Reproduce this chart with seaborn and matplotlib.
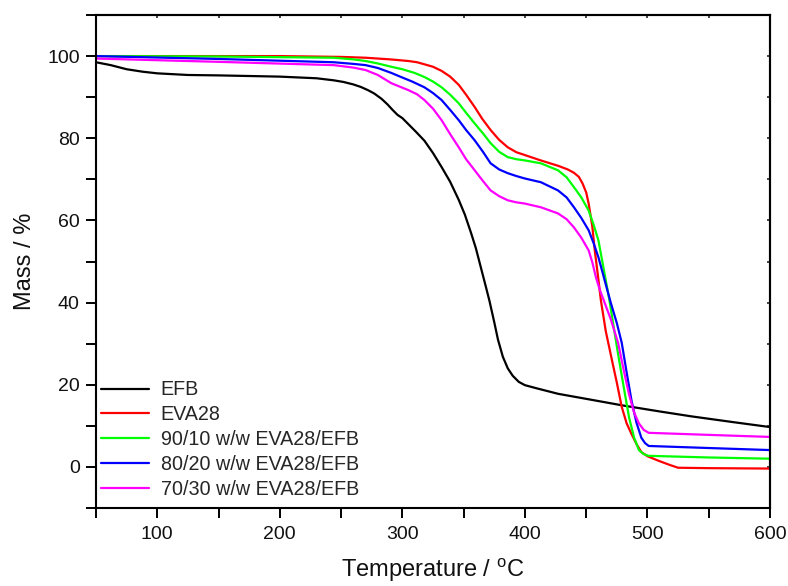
import matplotlib
matplotlib.use("Agg")
import numpy as np
import pandas as pd
import seaborn as sns
import matplotlib.pyplot as plt
from matplotlib.ticker import MultipleLocator

# Thermogravimetric curves: residual mass vs. temperature
labels = ["EFB", "EVA28", "90/10 w/w EVA28/EFB", "80/20 w/w EVA28/EFB", "70/30 w/w EVA28/EFB"]
colors = ["#000000", "#ff0000", "#00ff00", "#0000ff", "#ff00ff"]

efb_t = [50, 62, 75, 88, 100, 125, 150, 200, 230, 244, 252, 260, 266, 272, 277, 283, 288,
         292, 296, 300, 305, 311, 318, 325, 332, 339, 346, 351, 356, 360, 364, 368, 371,
         375, 378, 382, 386, 390, 395, 400, 410, 427, 455, 481, 510, 536, 570, 600]
efb_m = [98.5, 97.8, 96.8, 96.2, 95.8, 95.4, 95.3, 95.0, 94.6, 94.1, 93.7, 93.1, 92.5,
         91.7, 90.9, 89.6, 88.2, 86.9, 85.7, 84.9, 83.4, 81.6, 79.4, 76.4, 73.0, 69.4,
         65.0, 61.4, 57.0, 53.2, 48.6, 44.0, 40.5, 35.2, 31.0, 26.8, 24.0, 22.2, 20.7,
         19.9, 19.1, 17.8, 16.3, 14.9, 13.5, 12.3, 10.9, 9.7]

eva_t = [50, 100, 150, 200, 250, 270, 290, 305, 312, 318, 325, 332, 339, 346, 352, 359,
         365, 372, 379, 386, 393, 400, 413, 427, 435, 440, 444, 447, 450, 452, 455, 457,
         460, 462, 466, 471, 475, 479, 483, 487, 491, 495, 500, 509, 518, 525, 550, 600]
eva_m = [100, 100, 100, 100, 99.8, 99.6, 99.2, 98.8, 98.5, 98.0, 97.4, 96.4, 95.0, 93.0,
         90.6, 87.6, 84.8, 82.0, 79.6, 77.8, 76.6, 75.9, 74.6, 73.3, 72.4, 71.6, 70.6,
         69.0, 66.8, 64.1, 58.5, 52.7, 45.5, 40.5, 33.0, 26.0, 20.5, 14.6, 10.6, 8.0,
         5.6, 3.6, 2.6, 1.5, 0.5, -0.2, -0.3, -0.4]

b90_t = [50, 150, 244, 260, 270, 280, 291, 300, 310, 318, 325, 332, 339, 346, 352, 359,
         366, 372, 379, 386, 393, 400, 413, 427, 434, 440, 446, 452, 456, 460, 465, 469,
         473, 476, 480, 485, 489, 493, 497, 501, 550, 600]
b90_m = [100, 99.9, 99.6, 99.2, 98.8, 98.2, 97.4, 96.8, 95.9, 94.9, 93.8, 92.4, 90.6,
         88.5, 86.2, 83.6, 81.1, 78.8, 76.7, 75.4, 74.9, 74.6, 73.9, 72.2, 70.5, 68.1,
         65.6, 62.4, 59.0, 55.1, 47.0, 40.5, 33.0, 27.5, 20.5, 12.0, 7.2, 4.1, 3.1, 2.7,
         2.3, 2.0]

b80_t = [50, 150, 244, 260, 270, 280, 291, 299, 308, 318, 325, 332, 339, 346, 352, 359,
         366, 372, 379, 386, 393, 400, 413, 427, 434, 440, 446, 452, 456, 460, 465, 470,
         475, 479, 483, 487, 491, 495, 498, 501, 550, 600]
b80_m = [100, 99.3, 98.5, 98.1, 97.8, 97.1, 95.9, 94.9, 93.8, 92.4, 91.0, 89.3, 86.9,
         84.4, 82.0, 79.5, 76.6, 73.9, 72.4, 71.5, 70.8, 70.2, 69.3, 67.3, 65.6, 63.2,
         60.6, 57.6, 54.5, 51.0, 45.5, 40.0, 35.0, 30.2, 23.0, 16.1, 10.8, 7.1, 5.8, 5.1,
         4.6, 4.1]

b70_t = [50, 150, 244, 260, 270, 280, 291, 305, 312, 318, 325, 332, 339, 346, 352, 359,
         366, 372, 379, 386, 393, 400, 413, 427, 434, 440, 446, 452, 455, 458, 461, 465,
         470, 476, 481, 485, 489, 493, 497, 501, 550, 600]
b70_m = [99.4, 98.6, 97.8, 97.2, 96.6, 95.4, 93.4, 91.7, 90.7, 89.3, 87.2, 84.4, 81.0,
         77.8, 74.9, 72.2, 69.5, 67.3, 65.9, 64.9, 64.4, 64.1, 63.2, 61.7, 60.3, 58.3,
         55.8, 52.7, 49.8, 46.1, 43.2, 40.0, 36.0, 30.2, 23.0, 17.6, 13.3, 10.6, 9.0, 8.3,
         7.8, 7.3]

series = [(efb_t, efb_m), (eva_t, eva_m), (b90_t, b90_m), (b80_t, b80_m), (b70_t, b70_m)]
frames = [pd.DataFrame({"Temperature": t, "Mass": m, "Sample": lab})
          for lab, (t, m) in zip(labels, series)]
df = pd.concat(frames, ignore_index=True)

sns.set_theme(style="ticks")
plt.rcParams["font.family"] = ["Liberation Sans", "DejaVu Sans"]
plt.rcParams["mathtext.fontset"] = "custom"
plt.rcParams["mathtext.rm"] = "Liberation Sans"

fig = plt.figure(figsize=(7.88, 5.86), dpi=100)
ax = fig.add_axes([0.1218, 0.1331, 0.8554, 0.8413])

sns.lineplot(data=df, x="Temperature", y="Mass", hue="Sample", hue_order=labels,
             palette=colors, estimator=None, sort=False, linewidth=1.6, ax=ax)

ax.set_xlim(50, 600)
ax.set_ylim(-10, 110)
ax.xaxis.set_major_locator(MultipleLocator(100))
ax.xaxis.set_minor_locator(MultipleLocator(50))
ax.yaxis.set_major_locator(MultipleLocator(20))
ax.yaxis.set_minor_locator(MultipleLocator(10))
ax.tick_params(which="both", direction="out", length=7.2, width=1.4, color="black",
               labelsize=14, pad=4.5, labelcolor="#111111")
ax.tick_params(axis="x", which="both", pad=6)
for sp in ax.spines.values():
    sp.set_linewidth(1.5)
    sp.set_color("black")
    sp.set_visible(True)

# small inward ticks on the opposite sides
top = ax.secondary_xaxis("top")
top.xaxis.set_major_locator(MultipleLocator(50))
top.tick_params(direction="in", length=2.5, width=1.2, labeltop=False)
top.spines["top"].set_linewidth(1.5)
right = ax.secondary_yaxis("right")
right.yaxis.set_major_locator(MultipleLocator(10))
right.tick_params(direction="in", length=2.5, width=1.2, labelright=False)
right.spines["right"].set_linewidth(1.5)

ax.set_xlabel(r"Temperature / $^{\mathrm{o}}$C", fontsize=17, labelpad=9, color="#111111")
ax.set_ylabel("Mass / %", fontsize=17, labelpad=8, color="#111111")

sns.move_legend(ax, "lower left", bbox_to_anchor=(0.008, 0.018), title=None,
                frameon=False, fontsize=14.2, handlelength=2.4, handletextpad=0.6,
                labelspacing=0.3, borderaxespad=0, borderpad=0)

fig.savefig("out.png", dpi=100)
